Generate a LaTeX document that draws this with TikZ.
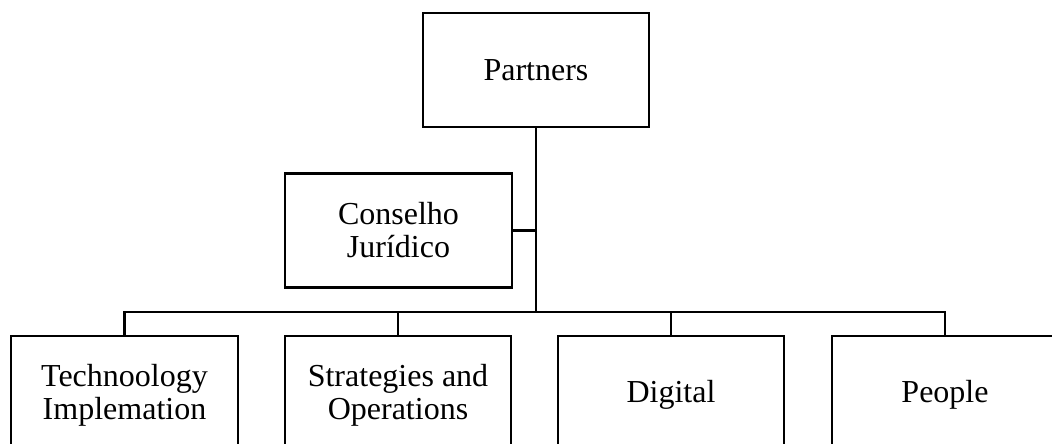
\documentclass[tikz,border=0pt]{standalone}
\usepackage{fontspec}
\setmainfont{Liberation Serif}
\begin{document}
\begin{tikzpicture}[x=0.75pt,y=-0.75pt,
  box/.style={draw=black,line width=1.7pt,fill=white,inner sep=0pt,
    align=center,font=\fontsize{24}{24.75}\selectfont},
  topbox/.style={box,minimum width=170pt,minimum height=85.5pt},
  unitbox/.style={box,minimum width=170pt,minimum height=88.5pt},
  link/.style={draw=black,line width=1.9pt,line join=miter}]
  \useasboundingbox (0,0) rectangle (1052,443);
  \clip (0,0) rectangle (1052,443);

  % management level
  \node[topbox] (partners) at (536,70) {Partners};
  \node[topbox] (conselho) at (398.5,230.5) {Conselho\\Jurídico};

  % bus line feeding the units
  \coordinate (bus) at (536,312);

  % units
  \node[unitbox] (tech)    at (124.5,395) {Technoology\\Implemation};
  \node[unitbox] (strat)   at (398,395)   {Strategies and\\Operations};
  \node[unitbox] (digital) at (671,395)   {Digital};
  \node[unitbox] (people)  at (945,395)   {People};

  % connectors
  \draw[link] (partners.south) -- (bus);
  \draw[link] (conselho.east) -- (conselho.east -| partners.south);
  \draw[link] (tech.north) -- (tech.north |- bus) -- (people.north |- bus) -- (people.north);
  \draw[link] (strat.north) -- (strat.north |- bus);
  \draw[link] (digital.north) -- (digital.north |- bus);
\end{tikzpicture}
\end{document}
